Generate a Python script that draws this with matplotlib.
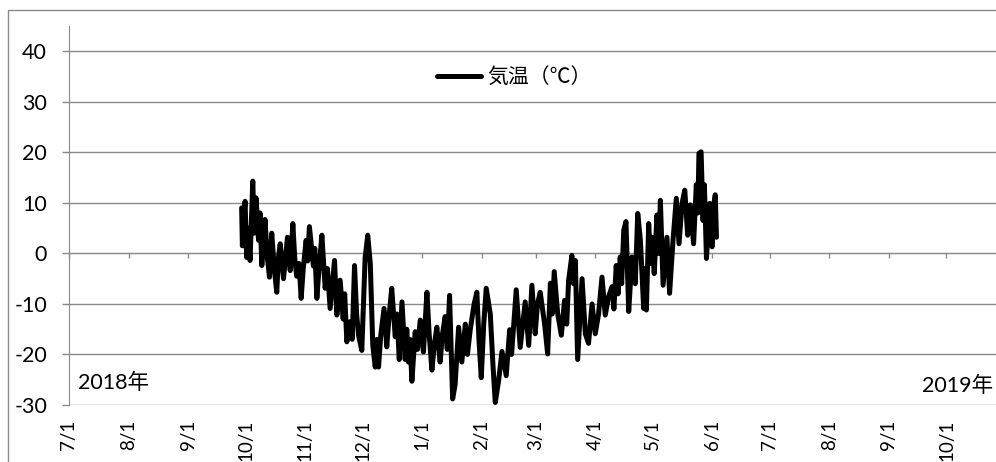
import matplotlib
matplotlib.use('Agg')
import matplotlib.pyplot as plt
import pandas as pd
from matplotlib.patches import Rectangle
from matplotlib.font_manager import FontProperties

# ---------------- data ----------------
times = [
    '2018-09-28 22', '2018-09-29 07', '2018-09-30 00', '2018-09-30 17', '2018-10-01 12',
    '2018-10-02 07', '2018-10-03 07', '2018-10-04 17', '2018-10-05 12', '2018-10-06 10',
    '2018-10-07 17', '2018-10-08 12', '2018-10-09 10', '2018-10-11 02', '2018-10-12 05',
    '2018-10-13 10', '2018-10-14 14', '2018-10-15 22', '2018-10-17 05', '2018-10-18 00',
    '2018-10-19 00', '2018-10-20 17', '2018-10-22 19', '2018-10-24 05', '2018-10-25 14',
    '2018-10-26 14', '2018-10-27 14', '2018-10-28 19', '2018-10-29 22', '2018-10-31 00',
    '2018-11-01 12', '2018-11-02 07', '2018-11-03 05', '2018-11-05 07', '2018-11-06 00',
    '2018-11-07 02', '2018-11-08 10', '2018-11-09 17', '2018-11-11 10', '2018-11-12 14',
    '2018-11-14 00', '2018-11-16 07', '2018-11-17 12', '2018-11-19 05', '2018-11-20 19',
    '2018-11-21 14', '2018-11-22 17', '2018-11-24 10', '2018-11-25 12', '2018-11-26 17',
    '2018-11-27 19', '2018-11-28 19', '2018-11-30 12', '2018-12-02 05', '2018-12-03 14',
    '2018-12-04 22', '2018-12-06 05', '2018-12-07 12', '2018-12-08 10', '2018-12-09 05',
    '2018-12-10 10', '2018-12-12 02', '2018-12-13 12', '2018-12-14 19', '2018-12-16 02',
    '2018-12-17 22', '2018-12-18 19', '2018-12-20 00', '2018-12-21 10', '2018-12-23 02',
    '2018-12-23 22', '2018-12-24 19', '2018-12-25 14', '2018-12-26 14', '2018-12-28 07',
    '2018-12-29 12', '2018-12-30 22', '2019-01-01 14', '2019-01-03 10', '2019-01-04 14',
    '2019-01-06 00', '2019-01-07 07', '2019-01-08 14', '2019-01-10 07', '2019-01-11 12',
    '2019-01-12 22', '2019-01-14 00', '2019-01-15 05', '2019-01-16 19', '2019-01-18 02',
    '2019-01-19 22', '2019-01-21 14', '2019-01-23 10', '2019-01-24 12', '2019-01-26 00',
    '2019-01-28 00', '2019-01-29 10', '2019-01-30 12', '2019-01-31 17', '2019-02-02 00',
    '2019-02-03 07', '2019-02-05 10', '2019-02-06 19', '2019-02-08 00', '2019-02-09 17',
    '2019-02-11 12', '2019-02-13 17', '2019-02-15 12', '2019-02-16 12', '2019-02-17 12',
    '2019-02-18 22', '2019-02-21 00', '2019-02-23 14', '2019-02-25 10', '2019-02-27 02',
    '2019-02-28 19', '2019-03-02 00', '2019-03-03 10', '2019-03-05 17', '2019-03-07 07',
    '2019-03-08 17', '2019-03-09 17', '2019-03-10 17', '2019-03-12 12', '2019-03-14 10',
    '2019-03-16 02', '2019-03-17 05', '2019-03-18 05', '2019-03-19 22', '2019-03-20 19',
    '2019-03-21 17', '2019-03-22 22', '2019-03-25 05', '2019-03-26 22', '2019-03-28 14',
    '2019-03-30 10', '2019-04-01 02', '2019-04-02 19', '2019-04-04 14', '2019-04-06 07',
    '2019-04-08 00', '2019-04-09 19', '2019-04-10 19', '2019-04-12 00', '2019-04-13 00',
    '2019-04-14 02', '2019-04-14 20', '2019-04-15 22', '2019-04-17 02', '2019-04-18 12',
    '2019-04-20 05', '2019-04-21 22', '2019-04-23 05', '2019-04-24 14', '2019-04-26 07',
    '2019-04-27 00', '2019-04-27 17', '2019-04-28 22', '2019-04-29 20', '2019-04-30 14',
    '2019-05-01 19', '2019-05-03 05', '2019-05-04 03', '2019-05-05 00', '2019-05-06 10',
    '2019-05-08 10', '2019-05-09 19', '2019-05-11 14', '2019-05-13 07', '2019-05-14 17',
    '2019-05-16 07', '2019-05-17 17', '2019-05-19 05', '2019-05-20 14', '2019-05-22 07',
    '2019-05-23 17', '2019-05-24 12', '2019-05-25 02', '2019-05-26 05', '2019-05-27 05',
    '2019-05-27 22', '2019-05-29 00', '2019-05-30 17', '2019-05-31 22', '2019-06-01 19',
    '2019-06-02 14', '2019-06-03 05',
]
temps = [
    9.0, 1.5, 7.0, 10.3, -0.8,
    5.0, -1.4, 14.3, 4.0, 11.0,
    2.6, 8.0, -2.4, 6.7, -0.5,
    -4.7, 4.0, -3.0, -7.7, -1.0,
    1.9, -5.0, 3.2, -3.4, 5.9,
    -1.0, -4.5, -2.0, -8.9, -3.0,
    2.6, -1.5, 5.3, -2.5, 1.0,
    -8.9, -2.0, 3.6, -6.9, -3.0,
    -10.9, -1.4, -12.2, -5.3, -13.0,
    -8.0, -17.5, -13.5, -17.0, -2.4,
    -12.0, -16.2, -19.2, -1.0, 3.6,
    -2.0, -18.2, -22.5, -17.0, -22.5,
    -16.0, -10.9, -18.5, -12.0, -6.9,
    -16.5, -12.0, -21.0, -9.6, -21.0,
    -15.0, -21.5, -17.0, -25.3, -15.5,
    -19.0, -13.2, -19.5, -7.7, -16.0,
    -23.1, -18.0, -14.6, -21.5, -16.0,
    -12.5, -19.0, -8.3, -28.8, -26.0,
    -14.6, -21.5, -14.0, -20.0, -15.0,
    -10.0, -7.7, -17.0, -24.6, -14.0,
    -6.9, -12.0, -22.0, -29.5, -25.3,
    -19.4, -24.2, -15.1, -20.0, -14.6,
    -7.2, -18.6, -9.6, -18.2, -6.3,
    -15.9, -10.0, -7.7, -14.0, -19.9,
    -5.9, -12.0, -3.6, -11.9, -16.2,
    -9.3, -14.0, -5.3, -0.4, -6.0,
    -1.4, -21.0, -5.0, -15.9, -17.8,
    -10.0, -15.9, -12.0, -4.7, -12.2,
    -8.6, -6.6, -11.0, -2.4, -8.0,
    -0.7, -6.0, 4.6, 6.3, -11.5,
    -0.7, -6.0, 7.9, 2.6, -10.9,
    -3.0, -11.2, 5.9, -2.0, 3.2,
    -4.0, 7.6, 0.0, 10.5, -6.3,
    3.2, -7.9, 2.6, 10.9, 1.9,
    9.9, 12.5, 3.6, 9.6, 1.9,
    13.6, 8.0, 19.8, 20.1, 6.5,
    13.6, -1.0, 9.9, 1.3, 9.6,
    11.6, 3.2,
]
tick_dates = ['2018-07-01', '2018-08-01', '2018-09-01', '2018-10-01', '2018-11-01',
              '2018-12-01', '2019-01-01', '2019-02-01', '2019-03-01', '2019-04-01',
              '2019-05-01', '2019-06-01', '2019-07-01', '2019-08-01', '2019-09-01',
              '2019-10-01']
tick_labels = ['7/1', '8/1', '9/1', '10/1', '11/1', '12/1', '1/1', '2/1', '3/1',
               '4/1', '5/1', '6/1', '7/1', '8/1', '9/1', '10/1']
y_ticks = [-30, -20, -10, 0, 10, 20, 30, 40]
series_label = '気温（℃）'
year_left = '2018年'
year_right = '2019年'

# ---------------- style ----------------
plt.rcParams['font.family'] = ['Lato', 'Noto Sans CJK JP', 'DejaVu Sans']
W, H = 996, 462
PX = 72 / 100  # points per pixel
GRID = '#8a8a8a'
FS = 15.5

fig = plt.figure(figsize=(W / 100, H / 100), dpi=100)
fig.patch.set_facecolor('white')
fig.patches.append(Rectangle((8 / W, -0.1), 1.2, 1 - 10 / H + 0.1,
                             transform=fig.transFigure, fill=False,
                             edgecolor=GRID, lw=1.0))

ax = fig.add_axes([69 / W, 1 - 405 / H, (1006 - 69) / W, (405 - 26) / H])
t = pd.to_datetime(times, format='%Y-%m-%d %H')
ax.plot(t, temps, color='black', lw=3.6, solid_joinstyle='round',
        solid_capstyle='round', label=series_label, zorder=3)

ax.set_xlim(pd.Timestamp('2018-07-01'), pd.Timestamp('2019-11-01'))
ax.set_ylim(-30, 45)
ax.set_yticks(y_ticks)
ax.set_yticklabels([str(v) for v in y_ticks])
ax.grid(axis='y', color=GRID, lw=1.0)
ax.set_axisbelow(True)

for s in ['top', 'right']:
    ax.spines[s].set_visible(False)
ax.spines['left'].set_color(GRID)
ax.spines['bottom'].set_color(GRID)
ax.spines['bottom'].set_position(('data', 0))

ax.set_xticks(pd.to_datetime(tick_dates))
ax.set_xticklabels(tick_labels, rotation=90)
ax.tick_params(axis='x', direction='out', length=5 * PX, width=1.0, color=GRID,
               pad=(419 - 253 - 5) * PX, labelsize=13.5)
ax.tick_params(axis='y', direction='out', length=7 * PX, width=1.0, color=GRID,
               pad=15 * PX, labelsize=FS)

fig.text(78 / W, 1 - 383 / H, year_left, ha='left', va='center', fontsize=FS)
fig.text(993 / W, 1 - 386 / H, year_right, ha='right', va='center', fontsize=FS)

leg = ax.legend(loc='center left', bbox_to_anchor=(437 / W, 1 - 77 / H),
                bbox_transform=fig.transFigure, frameon=False, borderpad=0,
                borderaxespad=0, handlelength=2.1, handletextpad=0.3,
                prop=FontProperties(family=['Noto Sans CJK JP'], size=15))

fig.savefig('out.png', dpi=100)
